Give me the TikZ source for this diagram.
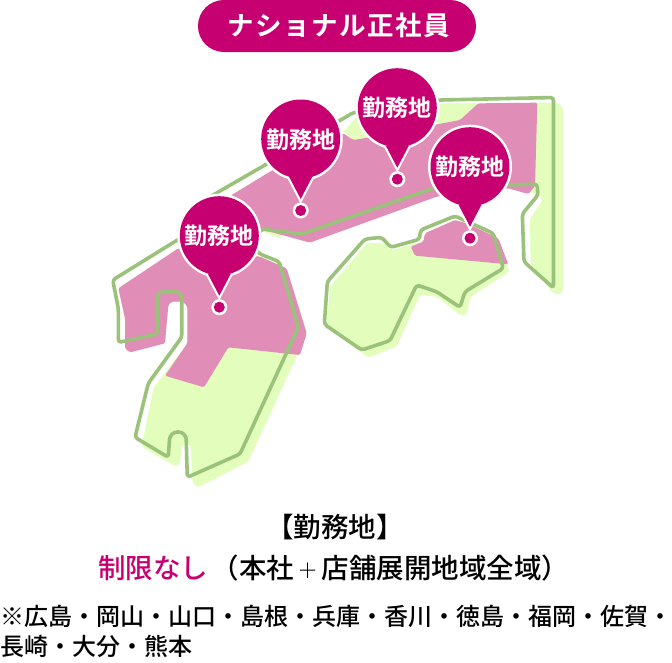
\documentclass[tikz,border=0pt]{standalone}
\usepackage{fontspec}
\newfontfamily\cjk[BoldFont={Noto Sans CJK JP Bold}]{Noto Sans CJK JP Medium}
\newfontfamily\cjkthin{Noto Sans CJK JP Light}
\newfontfamily\cjkwide[LetterSpace=5.8,BoldFont={Noto Sans CJK JP Bold}]{Noto Sans CJK JP}
\definecolor{mg}{HTML}{C70071}
\definecolor{pinkfill}{HTML}{E08DB7}
\definecolor{lightg}{HTML}{E3FDBC}
\definecolor{lineg}{HTML}{9BC27A}
\tikzset{
  zone/.style={x=0.33333pt,y=-0.33333pt,shift={(#1)}},
  lightzone/.style={fill=lightg,rounded corners=2pt},
  pinkzone/.style={fill=pinkfill,rounded corners=1.5pt},
  coast/.style={draw=lineg,line width=3.6pt,line join=round,rounded corners=3pt},
  pinlabel/.style={text=white,font=\cjk\bfseries\fontsize{23}{25}\selectfont,inner sep=0pt,anchor=center},
  caption/.style={font=\cjk\fontsize{27.5}{30}\selectfont,inner sep=0pt,text=black},
  note/.style={font=\cjk\fontsize{24}{28}\selectfont,inner sep=0pt,text=black,anchor=west},
}
\newcommand{\workpin}[3]{%
  \fill[white] (#2,#3) circle[radius=42pt];
  \draw[white,fill=white,line width=2.5pt,line join=miter] (#2-11.5,#3+40) -- (#2,#3+62) -- (#2+11.5,#3+40) -- cycle;
  \fill[mg] (#2,#3) circle[radius=39.5pt];
  \fill[mg] (#2-11.5,#3+38) -- (#2,#3+60) -- (#2+11.5,#3+38) -- cycle;
  \fill[white] (#2,#3+71.5) circle[radius=8pt];
  \fill[mg] (#2,#3+71.5) circle[radius=5.5pt];
  \node[pinlabel] (#1) at (#2,#3+0.5) {勤務地};
}
\begin{document}
\begin{tikzpicture}[x=1pt,y=-1pt]
\useasboundingbox (0,0) rectangle (672,662);
% title
\fill[mg,rounded corners=25.9pt] (198,0) rectangle (476,52);
\node[text=white,font=\cjkwide\bfseries\fontsize{26.5}{28}\selectfont,inner sep=0pt] (title) at (338.5,25.5) {ナショナル正社員};
% Kyushu
\begin{scope}[zone={100pt,-230pt}]
\fill[lightzone] (55,175) -- (75,265) -- (75,355) -- (90,367) -- (195,340) -- (205,225) -- (215,215) -- (250,215) -- (262,230) -- (262,340) -- (160,475) -- (125,650) -- (228,710) -- (240,700) -- (245,645) -- (272,645) -- (278,760) -- (295,772) -- (445,695) -- (622,310) -- (560,115) -- (480,80) -- (235,55) -- cycle;
\fill[pinkzone] (55,175) -- (75,265) -- (75,355) -- (90,367) -- (195,340) -- (205,225) -- (215,215) -- (250,215) -- (262,230) -- (262,340) -- (195,437) -- (312,472) -- (385,352) -- (600,375) -- (620,310) -- (560,115) -- (480,80) -- (235,55) -- cycle;
\end{scope}
% Honshu and Shikoku, in one frame
\begin{scope}[zone={320pt,-60pt}]
\fill[lightg] (-170,515) -- (-120,535) -- (-100,500) -- cycle;
\fill[lightg] (70,215) -- (100,240) -- (130,235) -- (420,180) -- (475,130) -- (360,130) -- (240,130) -- (115,165) -- cycle;
\fill[lightzone] (640,128) -- (712,128) -- (730,145) -- (730,695) -- (712,705) -- (695,695) -- (632,612) -- (630,475) -- (668,420) -- (652,398) -- (630,400) -- cycle;
\fill[pinkzone] (-265,405) -- (-150,335) -- (70,220) -- (100,240) -- (130,235) -- (420,180) -- (475,130) -- (652,128) -- (645,378) -- (625,402) -- (565,385) -- (350,410) -- (0,537) -- (-30,548) -- (-180,507) -- (-300,450) -- cycle;
\fill[lightzone] (30,680) -- (140,550) -- (185,548) -- (215,570) -- (310,545) -- (315,520) -- (405,480) -- (440,490) -- (535,535) -- (568,635) -- (450,712) -- (440,765) -- (420,765) -- (350,710) -- (300,705) -- (230,860) -- (145,893) -- (20,800) -- cycle;
\fill[pinkzone] (272,560) -- (310,545) -- (315,520) -- (405,480) -- (440,490) -- (535,535) -- (565,613) -- (285,587) -- cycle;
\draw[coast] (135,537) -- (185,532) -- (212,562) -- (298,538) -- (302,510) -- (405,468) -- (520,520) -- (550,625) -- (435,695) -- (420,742) -- (350,695) -- (290,675) -- (210,842) -- (125,870) -- (13,793) -- (22,665) -- cycle;
\end{scope}
% mainland coast line
\draw[coast] (112.7,280) -- (118.3,308.3) -- (118.3,342.5) -- (157.3,334) [rounded corners=5pt] -- (157.3,291.7) -- (181.7,291.7) [rounded corners=3pt] -- (181.7,337.3) -- (148.3,383.3) -- (135,437.3) -- (168.3,457.3) [rounded corners=7.5pt] -- (170,432) -- (186,432) [rounded corners=3pt] -- (187.3,477.3) -- (240,454) -- (298.3,327.3) -- (279.3,261.7) -- (260,254) -- (250,245) -- (261.7,229) -- (301.7,234) -- (433.3,188.3) -- (480,175) -- (510,185) -- (537,184) -- (538,195) -- (522.3,214) -- (524,261.7) -- (553.5,288) -- (553.5,97.5) -- (440,100) -- (353,112.7) -- (265,165) -- (220,191) -- (200,203) -- (200,226) -- cycle;
% pins
\workpin{pinA}{219.3}{235.7}
\workpin{pinB}{300.7}{139}
\workpin{pinC}{397.3}{107.7}
\workpin{pinD}{470}{166.7}
% captions
\node[caption] (head) at (335,527) {【勤務地】};
\node[caption,anchor=west] (limit) at (98,568) {\textcolor{mg}{制限なし}\hspace{3.5pt}（本社\makebox[27.5pt]{\cjkthin\fontsize{21}{24}\selectfont ＋}店舗展開地域全域）};
\node[note] (areaA) at (0,616.5) {※広島・岡山・山口・島根・兵庫・香川・徳島・福岡・佐賀・};
\node[note] (areaB) at (0,646.5) {長崎・大分・熊本};
\end{tikzpicture}
\end{document}
